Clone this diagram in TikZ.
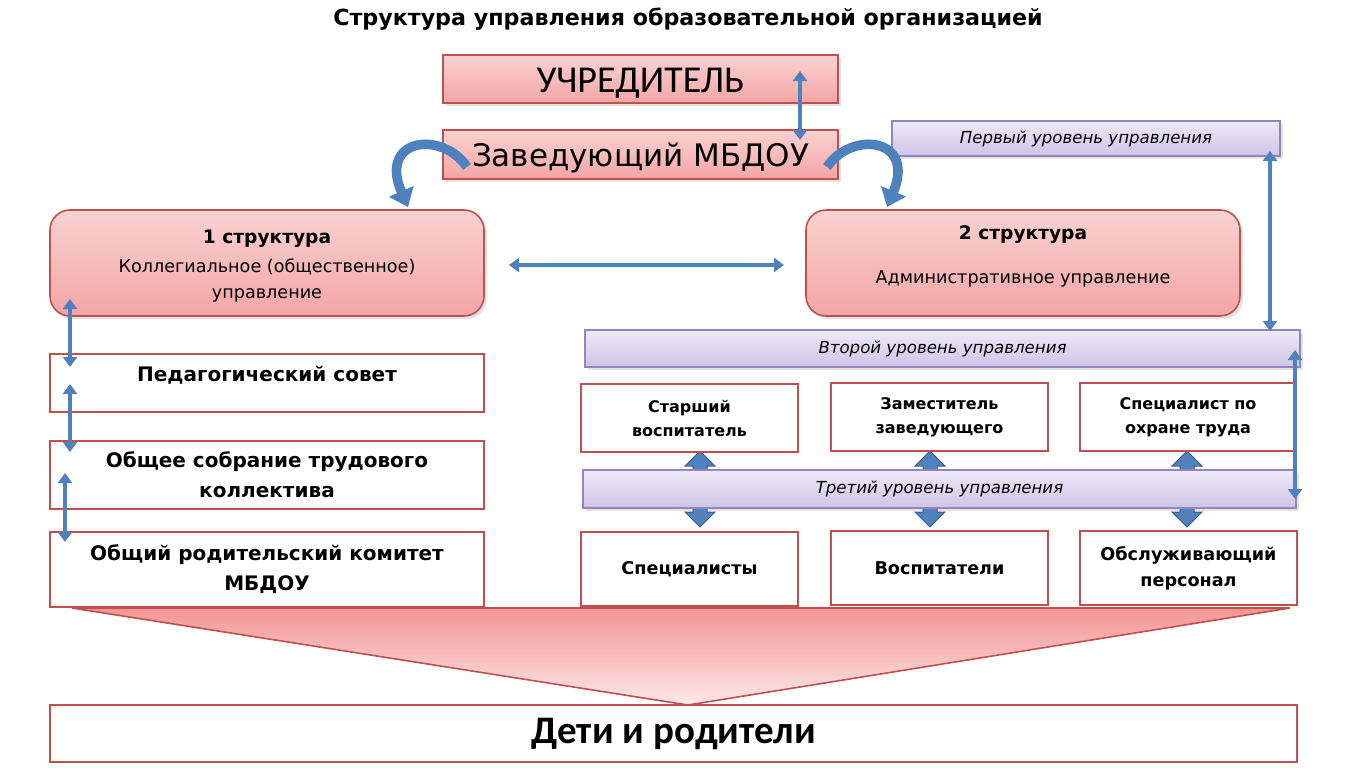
\documentclass[tikz,border=0pt]{standalone}
\usepackage{fontspec}
\setmainfont{DejaVu Sans}
\newfontfamily\calib{Carlito}
\usetikzlibrary{arrows.meta,shadows}
\definecolor{pinkline}{HTML}{C0504D}
\definecolor{pinktop}{HTML}{FAD2D2}
\definecolor{pinkbot}{HTML}{F3A5A5}
\definecolor{lavline}{HTML}{9585BF}
\definecolor{lavtop}{HTML}{EFEAF7}
\definecolor{lavbot}{HTML}{CEC3E6}
\definecolor{arrblue}{HTML}{4F81BD}
\definecolor{arrdark}{HTML}{385D8A}
\tikzset{
  pinkbox/.style={draw=pinkline, line width=0.8pt, top color=pinktop, bottom color=pinkbot,
    drop shadow={opacity=0.22, shadow xshift=1.5pt, shadow yshift=-1.5pt}, inner sep=0pt, align=center},
  whitebox/.style={draw=pinkline, line width=1pt, fill=white, inner sep=0pt, align=center},
  lvlbar/.style={draw=lavline, line width=0.8pt, top color=lavtop, bottom color=lavbot,
    drop shadow={opacity=0.22, shadow xshift=1.5pt, shadow yshift=-1.5pt}, inner sep=0pt,
    font=\fontsize{8.3}{10}\selectfont\itshape},
  thinarr/.style={draw=arrblue, line width=2pt,
    {Triangle[width=7pt,length=5pt]}-{Triangle[width=7pt,length=5pt]}},
  curvarr/.style={draw=arrblue, line width=4.8pt, -{Triangle[width=13pt,length=8.5pt]}},
  blockarr/.style={draw=arrdark, fill=arrblue, line width=0.5pt},
}
\newcommand\blkarrow[1]{%
  \filldraw[blockarr] (#1,451) -- (#1+15,466) -- (#1+7,466) -- (#1+7,512) -- (#1+15,512) -- (#1,527)
    -- (#1-15,512) -- (#1-7,512) -- (#1-7,466) -- (#1-15,466) -- cycle;}
\newcommand\shiftbox[2]{\raisebox{#1}[\height][\depth]{#2}}
\begin{document}
\begin{tikzpicture}[x=0.5pt,y=-0.5pt]
\useasboundingbox (0,0) rectangle (1365,767);
\fill[white] (0,0) rectangle (1365,767);

% title
\node[font=\bfseries\fontsize{11.1}{13}\selectfont] (title) at (688,19) {Структура управления образовательной организацией};

% funnel
\filldraw[draw=pinkline, line width=0.8pt, top color=pinkbot!90!red, bottom color=pinktop!50!white]
  (72,608) -- (1290,608) -- (688,705) -- cycle;

% top boxes
\node[pinkbox, minimum width=197.5pt, minimum height=24pt, font=\calib\fontsize{19}{20}\selectfont] (uch) at (640.5,79) {\shiftbox{-2pt}{УЧРЕДИТЕЛЬ}};
\node[pinkbox, minimum width=197.5pt, minimum height=24.5pt, font=\fontsize{15.5}{17}\selectfont] (zav) at (640.5,154.5) {\shiftbox{-1.5pt}{Заведующий МБДОУ}};

% structures
\node[pinkbox, rounded corners=10pt, minimum width=217pt, minimum height=53pt, font=\fontsize{8.8}{13}\selectfont] (s1) at (267,263)
  {\shiftbox{-1.5pt}{\begin{tabular}{@{}c@{}}{\bfseries\fontsize{9.3}{13}\selectfont 1 структура}\\[1.5pt]Коллегиальное (общественное)\\управление\end{tabular}}};
\node[pinkbox, rounded corners=10pt, minimum width=217pt, minimum height=53pt, font=\fontsize{8.8}{13}\selectfont] (s2) at (1023,263)
  {\shiftbox{3.3pt}{\begin{tabular}{@{}c@{}}{\bfseries\fontsize{9.3}{13}\selectfont 2 структура}\\[9pt]Административное управление\end{tabular}}};

% levels
\node[lvlbar, minimum width=194pt, minimum height=17.5pt] (lvl1) at (1086,138.5) {Первый уровень управления};
\node[lvlbar, minimum width=357.5pt, minimum height=18.5pt] (lvl2) at (942.5,348.5) {Второй уровень управления};

% block arrows (behind level 3)
\blkarrow{700}
\blkarrow{930}
\blkarrow{1187}
\node[lvlbar, minimum width=356.5pt, minimum height=19pt] (lvl3) at (939.5,489) {Третий уровень управления};

% left column
\node[whitebox, minimum width=217pt, minimum height=29pt, font=\bfseries\fontsize{10}{15}\selectfont] (ped) at (267,383) {\shiftbox{4pt}{Педагогический совет}};
\node[whitebox, minimum width=217pt, minimum height=34pt, font=\bfseries\fontsize{10}{15}\selectfont] (obs) at (267,475) {Общее собрание трудового\\коллектива};
\node[whitebox, minimum width=217pt, minimum height=37.5pt, font=\bfseries\fontsize{10}{15}\selectfont] (rod) at (267,569.5) {Общий родительский комитет\\МБДОУ};

% right middle row
\node[whitebox, minimum width=108.5pt, minimum height=34pt, font=\bfseries\fontsize{8}{12}\selectfont] (st) at (689.5,418) {Старший\\воспитатель};
\node[whitebox, minimum width=108.5pt, minimum height=34pt, font=\bfseries\fontsize{8}{12}\selectfont] (zam) at (939.5,417) {Заместитель\\заведующего};
\node[whitebox, minimum width=108pt, minimum height=34pt, font=\bfseries\fontsize{8}{12}\selectfont] (spo) at (1188,417) {Специалист по\\охране труда};

% right bottom row
\node[whitebox, minimum width=108.5pt, minimum height=37pt, font=\bfseries\fontsize{8.8}{13}\selectfont] (spc) at (689.5,569) {Специалисты};
\node[whitebox, minimum width=108.5pt, minimum height=37pt, font=\bfseries\fontsize{8.8}{13}\selectfont] (vos) at (939.5,568) {Воспитатели};
\node[whitebox, minimum width=108.5pt, minimum height=37pt, font=\bfseries\fontsize{8.8}{13}\selectfont] (obsl) at (1188.5,568) {Обслуживающий\\персонал};

% bottom
\node[whitebox, minimum width=623.5pt, minimum height=28.5pt, font=\calib\bfseries\fontsize{19.5}{21}\selectfont] (deti) at (673.5,733.5) {Дети и родители};

% thin arrows
\coordinate (a1s) at (800,71);  \coordinate (a1e) at (800,140);
\draw[thinarr] (a1s) -- (a1e);
\coordinate (hs) at (509,265); \coordinate (he) at (784,265);
\draw[thinarr] (hs) -- (he);
\coordinate (r1s) at (1270,151); \coordinate (r1e) at (1270,331);
\draw[thinarr] (r1s) -- (r1e);
\coordinate (r2s) at (1295,350); \coordinate (r2e) at (1295,499);
\draw[thinarr] (r2s) -- (r2e);
\coordinate (l1s) at (70,299); \coordinate (l1e) at (70,367);
\draw[thinarr] (l1s) -- (l1e);
\coordinate (l2s) at (70,384); \coordinate (l2e) at (70,452);
\draw[thinarr] (l2s) -- (l2e);
\coordinate (l3s) at (65,473); \coordinate (l3e) at (65,542);
\draw[thinarr] (l3s) -- (l3e);

% curved arrows
\coordinate (cls) at (467,167); \coordinate (cle) at (408,207);
\draw[curvarr] (cls) .. controls (442,130) and (378,138) .. (cle);
\coordinate (crs) at (827,167); \coordinate (cre) at (887,207);
\draw[curvarr] (crs) .. controls (852,130) and (916,138) .. (cre);
\end{tikzpicture}
\end{document}
